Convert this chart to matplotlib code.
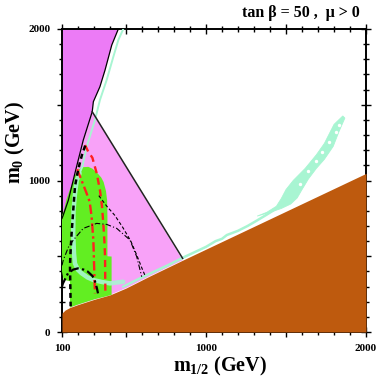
import numpy as np
import matplotlib
matplotlib.use('Agg')
import matplotlib.pyplot as plt
from matplotlib.ticker import FixedLocator, MultipleLocator

plt.rcParams['font.family'] = ['Liberation Serif', 'DejaVu Serif']
plt.rcParams['font.weight'] = 'bold'
plt.rcParams['mathtext.default'] = 'regular'

# boundary of the charged-LSP (stau) region, m_1/2 vs m_0
brown_x = [100, 120, 150, 200, 250, 300, 400, 500, 650, 854, 2000]
brown_y = [125, 145, 162, 181, 198, 215, 245, 290, 370, 474, 1047]

# boundary of the excluded (no EWSB) region at top left
violet_x = [452, 411, 369, 337, 296, 289, 233, 181, 140, 108, 100]
violet_y = [2000, 1894, 1729, 1619, 1520, 1454, 1267, 1049, 871, 772, 750]

# pink triangle right edge: apex to corner on the stau boundary
tri_x = [289, 854]
tri_y = [1454, 486]

# green region (b -> s gamma)
green_x = [179, 200, 231, 265, 290, 320, 345, 360, 375, 382, 384, 384, 410, 410,
           400, 300, 250, 200, 150, 150, 110, 100, 100, 112, 127, 148, 165]
green_y = [1030, 1070, 1088, 1090, 1078, 1050, 1020, 990, 930, 870, 760, 500, 498, 245,
           242, 215, 198, 181, 162, 335, 345, 400, 770, 800, 871, 937, 985]

# WMAP strips
strip1_x = [483, 452, 421, 379, 337, 306, 254, 227, 210]
strip1_y = [2000, 1927, 1817, 1663, 1531, 1399, 1223, 1091, 1047]
strip2_x = [210, 192, 180, 172, 170, 175, 181, 200, 223, 260, 296, 350, 400, 483]
strip2_y = [1047, 1000, 900, 800, 650, 520, 453, 410, 387, 360, 343, 330, 321, 332]
strip3_x = [483, 608, 760, 858, 1000, 1060, 1100, 1130, 1200, 1260, 1317, 1380, 1440]
strip3_y = [300, 365, 440, 492, 562, 600, 615, 640, 668, 700, 735, 775, 815]

funnel_x = [1320, 1380, 1440, 1470, 1500, 1545, 1620, 1690, 1740, 1800, 1855,
            1868, 1830, 1795, 1740, 1690, 1640, 1600, 1570, 1530, 1470, 1400, 1320]
funnel_y = [765, 790, 830, 880, 940, 1000, 1080, 1170, 1245, 1370, 1426,
            1412, 1320, 1225, 1140, 1080, 1010, 940, 885, 845, 815, 790, 765]
# empty loops inside the funnel
hole_x = [1830, 1812, 1770, 1725, 1690, 1640, 1590]
hole_y = [1368, 1318, 1255, 1190, 1130, 1060, 975]

# contours
red_dash_x = [244, 264, 290, 317, 337, 350, 358, 365, 369, 371]
red_dash_y = [1234, 1190, 1150, 1047, 937, 830, 717, 600, 497, 260]
red_dd_x = [195, 205, 230, 254, 273, 285, 296, 302, 306]
red_dd_y = [1075, 1047, 980, 915, 860, 761, 607, 387, 255]
chargino_x = [245, 225, 210, 195, 181, 170, 160, 152, 150, 152, 154]
chargino_y = [1230, 1170, 1110, 1040, 959, 800, 651, 500, 431, 300, 170]
gm2_x = [330, 380, 430, 480, 530, 570, 600, 620]
gm2_y = [900, 830, 770, 690, 600, 500, 420, 370]
arc_big_x = [100, 108, 140, 171, 233, 317, 380, 442, 525, 567, 590, 598]
arc_big_y = [440, 475, 560, 607, 684, 717, 710, 684, 607, 497, 400, 365]
arc_small_x = [100, 106, 137, 170, 200, 235, 262, 290, 304, 318, 325]
arc_small_y = [300, 321, 387, 412, 420, 412, 398, 370, 343, 290, 255]

xticks = [100, 500, 1000, 1500, 2000]
xticklabels = ['100', '', '1000', '', '2000']
yticks = [0, 500, 1000, 1500, 2000]
yticklabels = ['0', '', '1000', '', '2000']

violet = '#EC7BF6'
pink = '#F8A2F8'
green = '#62EE22'
brown = '#BE5A0E'
mint = '#A8F5D2'
red = '#FF2020'

fig = plt.figure(figsize=(3.77, 3.82), dpi=100)
ax = fig.add_axes([62 / 377, 50 / 382, 304 / 377, 303 / 382])

# pink region: between violet boundary, triangle edge and stau boundary
inside = [i for i, x in enumerate(brown_x) if 150 < x <= 854]
px = violet_x[5:] + [100, 150, 150] + [brown_x[i] for i in inside] + [tri_x[0]]
py = violet_y[5:] + [420, 400, 162] + [brown_y[i] for i in inside] + [tri_y[0]]
ax.fill(px, py, color=pink, lw=0, zorder=1)

ax.fill(violet_x + [100], violet_y + [2000], color=violet, lw=0, zorder=2)
ax.fill(green_x, green_y, color=green, lw=0, zorder=3)

ax.plot(strip1_x, strip1_y, color=mint, lw=1.4, zorder=4)
ax.plot(strip2_x, strip2_y, color=mint, lw=3.2, alpha=0.9, zorder=4, solid_capstyle='round')
ax.plot(strip3_x, strip3_y, color=mint, lw=1.8, zorder=4)
ax.fill(funnel_x, funnel_y, color=mint, lw=0.6, ec=mint, zorder=4)
ax.scatter(hole_x, hole_y, s=6, color='white', lw=0, zorder=4)

ax.fill_between(brown_x, brown_y, 0, color=brown, lw=0, zorder=5)

ax.plot(violet_x, violet_y, color='black', lw=0.9, zorder=6)
ax.plot(tri_x, tri_y, color='#222222', lw=1.1, zorder=6)

ax.plot(red_dash_x, red_dash_y, color=red, lw=1.7, ls=(0, (3, 2)), zorder=7)
ax.plot(red_dd_x, red_dd_y, color=red, lw=1.7, ls=(0, (4, 1.5, 1, 1.5)), zorder=7)
ax.plot(chargino_x, chargino_y, color='black', lw=1.8, ls=(0, (2, 1.5)), zorder=7)
ax.plot(gm2_x, gm2_y, color='black', lw=0.8, ls=(0, (3, 2)), zorder=7)
ax.plot(arc_big_x, arc_big_y, color='black', lw=0.8, ls=(0, (5, 2, 1, 2)), zorder=7)
ax.plot(arc_small_x, arc_small_y, color='black', lw=1.6, ls=(0, (4, 1.5, 1, 1.5)), zorder=7)

ax.set_xlim(100, 2000)
ax.set_ylim(0, 2000)
ax.xaxis.set_major_locator(FixedLocator(xticks))
ax.set_xticklabels(xticklabels)
ax.yaxis.set_major_locator(FixedLocator(yticks))
ax.set_yticklabels(yticklabels)
ax.xaxis.set_minor_locator(MultipleLocator(100))
ax.yaxis.set_minor_locator(MultipleLocator(100))
ax.tick_params(which='both', direction='inout', top=True, right=True, labelsize=8, width=1)
ax.tick_params(which='major', length=7, pad=5)
ax.tick_params(which='minor', length=4)
for lab in ax.get_xticklabels() + ax.get_yticklabels():
    lab.set_fontweight('bold')
for sp in ax.spines.values():
    sp.set_linewidth(1.4)

ax.set_xlabel('m$_{1/2}$ (GeV)', fontsize=14.5, fontweight='bold')
ax.set_ylabel('m$_0$ (GeV)', fontsize=14.5, fontweight='bold')
ax.xaxis.set_label_coords(0.52, -0.075)
ax.yaxis.set_label_coords(-0.115, 0.625)

fig.text(0.955, 0.965, 'tan β = 50 ,  μ > 0', ha='right', va='center', fontsize=11.5, fontweight='bold')

fig.savefig('out.png', dpi=100)
